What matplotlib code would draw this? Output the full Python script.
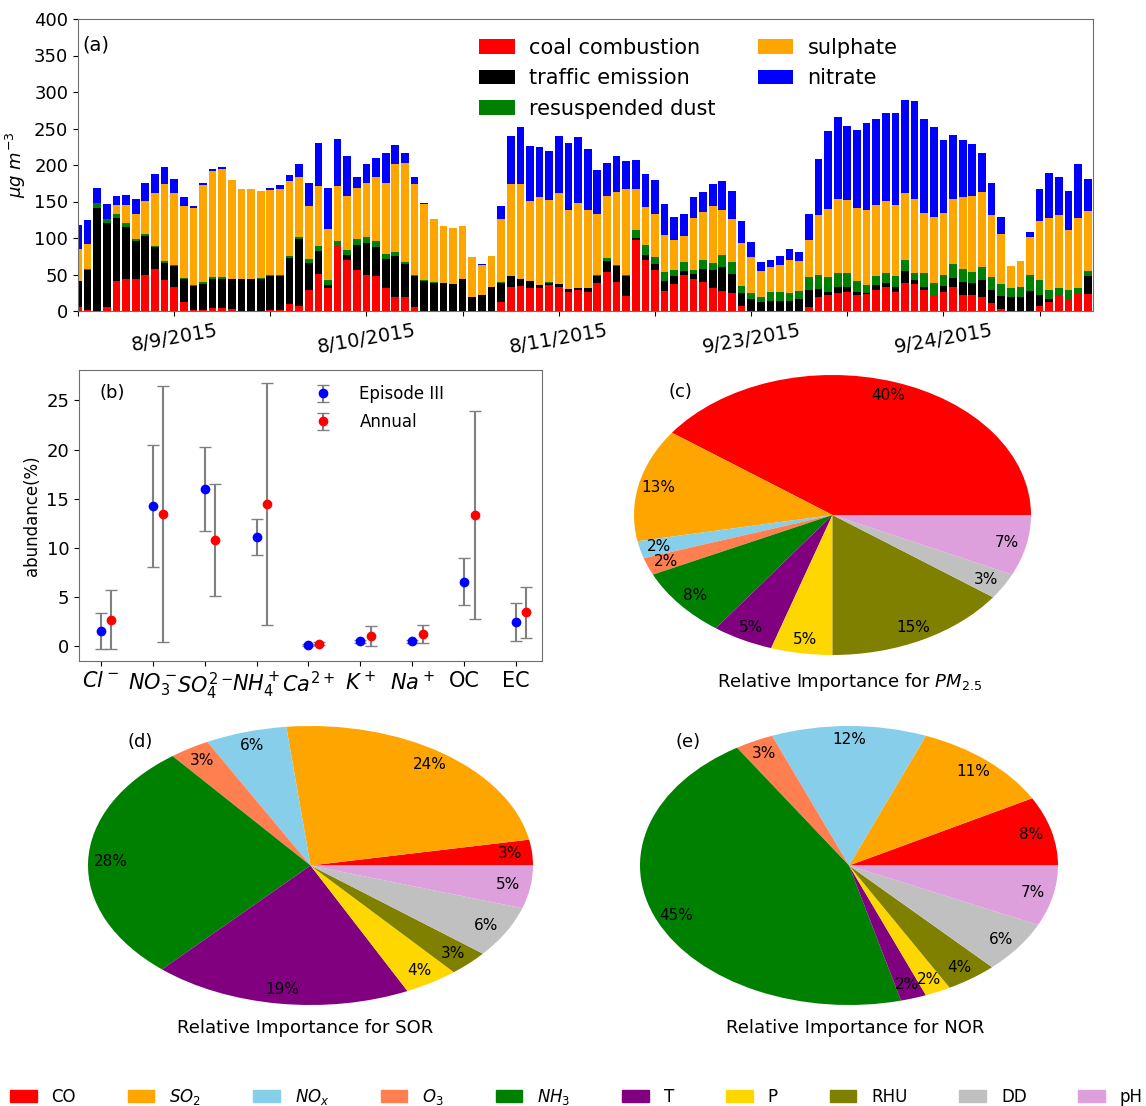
import numpy as np
import matplotlib
matplotlib.use("Agg")
import matplotlib.pyplot as plt
from matplotlib.patches import Patch

# ---- (a) source apportionment, stacked per sample ----
coal = [5, 2, 0, 5.5, 41, 44, 43.5, 50, 57, 42, 33, 12.5, 1, 2, 3.5, 3.5, 3, 0.5, 0, 0.5,
        1.5, 1.5, 10, 6.5, 29, 50.5, 31.5, 89.5, 69.5, 56, 49, 47.5, 31, 18.5, 19.5, 6, 0, 0, 0, 0,
        0, 0, 0, 0, 13, 33, 34.5, 31, 31, 35.5, 33.5, 26.5, 29, 26, 38.5, 54, 40, 21, 97, 70,
        55.5, 28, 37, 49, 44, 39.5, 31, 28, 25, 7.5, 0, 0, 0, 0, 0, 0, 6, 18.5, 22, 24,
        26.5, 22, 23, 29, 32.5, 26.5, 39, 37.5, 29, 22, 25.5, 33.5, 22, 22, 18.5, 11.5, 2.5, 0, 0, 0.5,
        7, 13, 22, 16, 24, 23]
traffic = [36, 54, 140.5, 114.5, 86, 71.5, 53, 53, 30, 24, 28, 31, 33, 35.5, 40, 40.5, 40.5, 43, 43.5, 44,
           46.5, 46.5, 62.5, 92, 37, 32, 4.5, 0, 7.5, 34, 44, 39.5, 40, 57, 45.5, 42, 41.5, 38, 38.5, 37,
           43.5, 19.5, 22, 32.5, 26, 15, 9, 10, 4.5, 3.5, 3, 3, 2, 5, 10, 14, 22, 27.5, 3.5, 7,
           8.5, 13.5, 11, 6, 6.5, 17.5, 25.5, 32.5, 25.5, 16.5, 16, 12.8, 14, 14, 14, 16.4, 23, 11, 4.5, 9,
           7, 3.7, 1.5, 6.8, 5.5, 6.8, 16, 4.5, 4.5, 0.5, 8.6, 11.4, 18.2, 16, 24.2, 17.4, 18.2, 18.5, 18.5, 27.4,
           15, 2.8, 0.5, 0.5, 0.5, 25]
dust = [0.5, 1, 7, 6, 6, 5.5, 2.5, 2.5, 2, 2, 2, 1.5, 1.5, 2.5, 2.5, 2, 1, 1, 1, 1,
        1.5, 1.5, 3, 3.5, 5.5, 6, 6, 7, 6.5, 8, 8, 9, 6.5, 5.5, 2.3, 1.5, 0.5, 1.5, 0.5, 0.5,
        0.5, 0, 0, 0, 0.5, 0.5, 0.5, 0.5, 0.5, 0.5, 0.5, 0.5, 0.5, 0.5, 0.5, 4, 1, 1, 11, 13.5,
        10.5, 12.5, 7.5, 11.5, 5, 13, 9, 16, 17, 10, 8, 6, 12.5, 12.5, 11, 11.5, 17.5, 20.5, 20.5, 18.5,
        18.3, 16, 11, 12.3, 13.7, 15.3, 15, 10.5, 18.3, 15.4, 15.1, 19, 16.8, 14.8, 17.3, 17, 16, 12.5, 14.7, 21.4,
        20.5, 13.2, 8.5, 12.3, 6.5, 7.4]
sulphate = [43, 35, 1, 0.5, 12, 24, 33.5, 45.5, 72.5, 105.5, 99, 99, 105, 133, 146, 149, 135, 123, 123, 119,
            116, 118, 103, 82, 72, 83, 71, 74.5, 73.5, 71, 75, 88, 98.5, 121, 135.5, 124.5, 105, 86, 78, 76,
            73, 54, 40.5, 43.5, 86.5, 125.5, 130.5, 109.5, 119.5, 112.5, 125, 108.5, 117, 107.5, 84.5, 85.5, 100.5, 117, 55, 52.5,
            59, 50, 42, 36, 71.5, 66, 79, 62, 58.5, 58.5, 50, 36.5, 34, 36.5, 45, 41, 51, 81.5, 92.5, 101.5,
            100.5, 99, 103.5, 97.5, 99.5, 96.5, 91.5, 100.5, 82, 90.5, 85.5, 89.5, 98.5, 105, 102.5, 85, 69, 31, 35.3, 52.5,
            81, 98, 100.5, 82, 96, 82]
nitrate = [33, 33, 20, 20, 13, 14, 21, 24, 26, 23.5, 19.5, 12.5, 3.5, 2.5, 2.5, 2, 0, 0, 0, 0,
           2.5, 5, 7.5, 17, 32.5, 58.5, 55, 65, 56, 15, 26, 25, 40, 26, 13.5, 9, 1, 0, 0, 0,
           0, 0, 2, 0, 18, 66, 77.5, 75, 69, 67, 78, 92, 90.5, 83, 59, 45.5, 49.5, 39.5, 40.5, 45,
           46.5, 42, 31, 31, 29.5, 26.5, 29.5, 39, 39, 31, 21, 12.3, 9, 12.8, 14.5, 12.3, 35.5, 76.5, 107.5, 112.5,
           101.5, 107.5, 118.5, 117.5, 120.5, 126.5, 128, 134.5, 129, 124, 99.5, 88, 79, 70.5, 54, 45, 23.5, 0, 0, 6,
           43, 62.5, 51.5, 53.5, 74, 43]
date_ticks = [0, 10, 20, 30, 40, 50, 60, 70, 80, 90, 100]
date_labels = ["", "8/9/2015", "", "8/10/2015", "", "8/11/2015", "", "9/23/2015", "", "9/24/2015", ""]

# ---- (b) species abundance ----
species = [r"$Cl^-$", r"$NO_3^-$", r"$SO_4^{2-}$", r"$NH_4^+$", r"$Ca^{2+}$",
           r"$K^+$", r"$Na^+$", "OC", "EC"]
episode_mean = [1.55, 14.3, 16.0, 11.1, 0.14, 0.5, 0.5, 6.55, 2.48]
episode_std = [1.8, 6.2, 4.3, 1.8, 0.08, 0.15, 0.15, 2.4, 1.9]
annual_mean = [2.72, 13.45, 10.77, 14.44, 0.27, 1.05, 1.26, 13.38, 3.46]
annual_std = [3.0, 13.0, 5.7, 12.3, 0.12, 1.0, 0.95, 10.6, 2.6]

# ---- (c)-(e) relative importance ----
factors = ["CO", r"$SO_2$", r"$NO_x$", r"$O_3$", r"$NH_3$", "T", "P", "RHU", "DD", "pH"]
factor_colors = ["red", "orange", "skyblue", "coral", "green", "purple", "gold", "olive", "silver", "plum"]
imp_pm25 = [40, 13, 2, 2, 8, 5, 5, 15, 3, 7]
imp_sor = [3, 24, 6, 3, 28, 19, 4, 3, 6, 5]
imp_nor = [8, 11, 12, 3, 45, 2, 2, 4, 6, 7]

W, H = 1146, 1106
fig = plt.figure(figsize=(W / 100, H / 100), dpi=100)
spine_c = "#6e6e6e"


def box(l, t, r, b):
    return [l / W, 1 - b / H, (r - l) / W, (b - t) / H]


# (a)
ax = fig.add_axes(box(78, 19, 1093, 311))
x = np.arange(len(coal))
bottom = np.zeros(len(coal))
layers = [(coal, "red", "coal combustion"), (traffic, "black", "traffic emission"),
          (dust, "green", "resuspended dust"), (sulphate, "orange", "sulphate"),
          (nitrate, "blue", "nitrate")]
for vals, col, lab in layers:
    ax.bar(x, vals, width=0.8, bottom=bottom, color=col, label=lab)
    bottom += np.array(vals)
ax.set_xlim(0, 105.55)
ax.set_ylim(0, 400)
ax.set_yticks(range(0, 401, 50))
ax.set_xticks(date_ticks)
ax.set_xticklabels(date_labels, rotation=10, fontsize=14)
ax.tick_params(axis="y", labelsize=13)
ax.set_ylabel(r"$\mu g\ m^{-3}$", fontsize=13)
ax.text(0.004, 0.91, "(a)", transform=ax.transAxes, fontsize=14, va="center")
ax.legend(ncol=2, frameon=False, loc="upper left", bbox_to_anchor=(0.377, 1.0), fontsize=15,
          handlelength=1.7, handletextpad=0.7, columnspacing=2.0, labelspacing=0.5)
for s in ax.spines.values():
    s.set_color(spine_c)

# (b)
bx = fig.add_axes(box(79, 370, 542, 661))
pos = np.arange(len(species))
bx.errorbar(pos, episode_mean, yerr=episode_std, fmt="o", color="blue", ecolor="grey",
            markersize=6, capsize=4, elinewidth=1.5, label="Episode III")
bx.errorbar(pos + 0.2, annual_mean, yerr=annual_std, fmt="o", color="red", ecolor="grey",
            markersize=6, capsize=4, elinewidth=1.5, label="Annual")
bx.set_xlim(-0.42, 8.5)
bx.set_ylim(-1.5, 28.1)
bx.set_yticks([0, 5, 10, 15, 20, 25])
bx.set_xticks(pos)
bx.set_xticklabels(species, fontsize=15)
bx.tick_params(axis="y", labelsize=13)
bx.set_ylabel("abundance(%)", fontsize=12)
bx.text(0.045, 0.92, "(b)", transform=bx.transAxes, fontsize=13, va="center")
bx.legend(frameon=False, loc="upper left", bbox_to_anchor=(0.458, 1.0), fontsize=12,
          handletextpad=1.2, labelspacing=0.6)
for s in bx.spines.values():
    s.set_color(spine_c)


def pie_panel(rect, vals, title, title_xy, tag, tag_xy):
    pa = fig.add_axes(rect)
    pa.pie(vals, colors=factor_colors, autopct="%1.0f%%", pctdistance=0.9,
           startangle=0, counterclock=True, textprops={"fontsize": 11})
    pa.set_aspect("auto")
    pa.set_xlim(-1, 1)
    pa.set_ylim(-1, 1)
    fig.text(title_xy[0] / W, 1 - title_xy[1] / H, title, fontsize=13, ha="center", va="center")
    fig.text(tag_xy[0] / W, 1 - tag_xy[1] / H, tag, fontsize=13, ha="center", va="center")


pie_panel(box(634, 375, 1031, 655), imp_pm25, r"Relative Importance for $PM_{2.5}$",
          (850, 682), "(c)", (680, 392))
pie_panel(box(88, 726, 533, 1005), imp_sor, "Relative Importance for SOR",
          (305, 1028), "(d)", (140, 742))
pie_panel(box(640, 726, 1058, 1005), imp_nor, "Relative Importance for NOR",
          (855, 1028), "(e)", (688, 742))

handles = [Patch(color=c) for c in factor_colors]
fig.legend(handles, factors, ncol=10, frameon=False, loc="center",
           bbox_to_anchor=(0.503, 1 - 1097 / H), fontsize=12,
           handlelength=1.6, handletextpad=0.9, columnspacing=3.1)

fig.savefig("out.png", dpi=100)
